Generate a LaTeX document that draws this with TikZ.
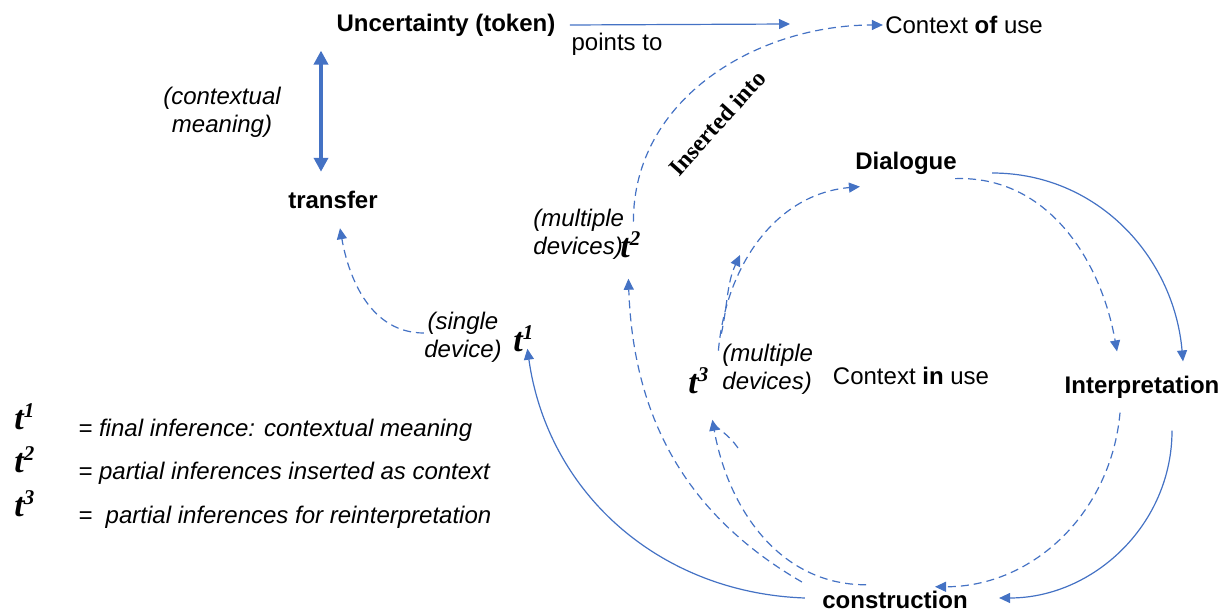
\documentclass[tikz,border=0pt]{standalone}
\usepackage{fontspec}
\setmainfont{Liberation Sans}
\newfontfamily\tnr{Liberation Serif}
\usetikzlibrary{arrows.meta,calc}
\definecolor{lblue}{HTML}{4472C4}
% t with a superscript index, in bold italic serif
\newcommand{\tidx}[1]{t\raisebox{6pt}{\fontsize{10.5}{11}\selectfont #1}}
\tikzset{
  txt/.style={font=\fontsize{12}{14}\selectfont, inner sep=1pt},
  boldlbl/.style={font=\fontsize{12}{14}\selectfont\bfseries, inner sep=1pt},
  itlbl/.style={font=\fontsize{12}{14}\selectfont\itshape, inner sep=1pt, align=center},
  tvar/.style={font=\tnr\fontsize{17}{17}\selectfont\bfseries\itshape, inner sep=0pt},
  insl/.style={font=\tnr\fontsize{12}{14}\selectfont\bfseries, inner sep=0pt, rotate=48},
  link/.style={draw=lblue, line width=0.6pt, -{Triangle[length=5.5pt,width=5pt]}},
  dlink/.style={link, dash pattern=on 4pt off 2.5pt},
  dashonly/.style={draw=lblue, line width=0.6pt, dash pattern=on 4pt off 2.5pt},
  thicklink/.style={draw=lblue, line width=2pt,
    {Triangle[length=7pt,width=7pt]}-{Triangle[length=7pt,width=7pt]}},
}
\begin{document}
\begin{tikzpicture}[x=0.5pt,y=-0.5pt]
\useasboundingbox (0,0) rectangle (1229,614);

% ---- labels
\node[boldlbl] (unc) at (446,25) {Uncertainty (token)};
\node[txt] (ctxof) at (964,25) {Context \textbf{of} use};
\node[txt] (pts) at (617,44) {points to};
\node[itlbl] (cmean) at (222,112) {(contextual\\meaning)};
\node[boldlbl] (trans) at (333,200) {transfer};
\node[itlbl] (single) at (463,337) {(single\\device)};
\node[tvar, anchor=base west] (t1) at (513,351) {\tidx{1}};
\node[itlbl, align=left, anchor=west] (mdev2) at (531,234) {(multiple\\devices)};
\node[tvar, anchor=base west] (t2) at (620,258) {\tidx{2}};
\node[tvar, anchor=base west] (t3) at (688,393) {\tidx{3}};
\node[itlbl, align=left, anchor=west] (mdev3) at (720,369) {(multiple\\devices)};
\node[txt] (ctxin) at (911,376) {Context \textbf{in} use};
\node[boldlbl] (dlg) at (906,163) {Dialogue};
\node[boldlbl] (interp) at (1142,387) {Interpretation};
\node[boldlbl] (constr) at (895,600) {construction};
\node[insl] (ins) at (717,123) {Inserted into};

% ---- key
\node[tvar, anchor=base west] (k1) at (14,429) {\tidx{1}};
\node[tvar, anchor=base west] (k2) at (14,472) {\tidx{2}};
\node[tvar, anchor=base west] (k3) at (14,516) {\tidx{3}};
\node[itlbl, anchor=base west] (d1) at (76,436) {= final inference: contextual meaning};
\node[itlbl, anchor=base west] (d2) at (76,479) {= partial inferences inserted as context};
\node[itlbl, anchor=base west] (d3) at (76,523) {= \ partial inferences for reinterpretation};

% ---- connectors
\coordinate (ptip) at (790,24);
\draw[link] ([xshift=6pt]unc.east) -- (ptip);
\draw[thicklink] ($(unc.south -| trans.north)+(-12,12)$) -- ($(trans.north)+(-12,-17)$);
\draw[dlink] ($(t2.north)+(3,-10)$) to[out=90,in=180] (ctxof.west);
\draw[dlink] ($(single.west)+(2,-4)$) to[out=180,in=-80] ($(trans.south)+(7,17)$);
\draw[link] ($(constr.west)+(-15,-2)$) to[out=178,in=-82] ($(t1.south)+(4,-3)$);
\draw[dlink] ($(constr.west)+(-18,-18)$) to[out=150,in=-88] ($(t2.south)+(-2,20)$);
\draw[dlink] ($(constr.north)+(-29,-4)$) to[out=180,in=-80] ($(t3.south)+(14,26)$);
\draw[dashonly] (738,448) to[out=125,in=-40] ($(t3.south)+(17,32)$);
\draw[dlink] ($(t3.north)+(20,-16)$) to[out=85,in=185] ($(dlg.south west)+(7,10)$);
\draw[dlink] ($(t3.north)+(23,-33)$) to[out=78,in=-115] (740,255);
\draw[dlink] ($(dlg.south east)+(-4,2)$) to[out=2,in=100] ($(interp.north)+(-25,-22)$);
\draw[link] ($(dlg.east)+(33,10)$) to[out=0,in=95] ($(interp.north)+(41,-12)$);
\draw[dlink] ($(interp.south)+(-22,12)$) to[out=-95,in=0] ($(constr.north)+(40,-2)$);
\draw[link] ($(interp.south)+(30,30)$) to[out=-90,in=0] ($(constr.east)+(29,-2)$);
\end{tikzpicture}
\end{document}
